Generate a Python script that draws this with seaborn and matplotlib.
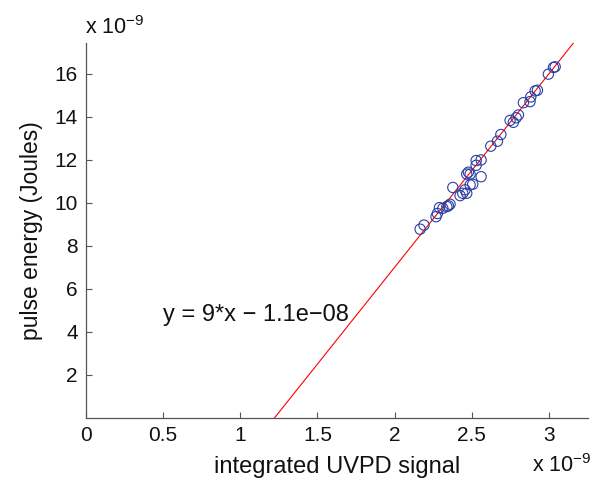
import numpy as np
import pandas as pd
import matplotlib
matplotlib.use("Agg")
import matplotlib.pyplot as plt
import seaborn as sns

# Data (units of 1e-9)
signal = [2.165, 2.19, 2.268, 2.277, 2.29, 2.312, 2.348, 2.359, 2.338, 2.377,
          2.424, 2.441, 2.456, 2.467, 2.489, 2.506, 2.467, 2.478, 2.489, 2.56,
          2.528, 2.528, 2.56, 2.623, 2.666, 2.688, 2.748, 2.769, 2.787, 2.802,
          2.834, 2.877, 2.882, 2.91, 2.925, 2.996, 3.029, 3.04]
energy = [8.77, 8.96, 9.35, 9.50, 9.77, 9.74, 9.86, 9.93, 9.82, 10.71,
          10.33, 10.44, 10.60, 10.44, 10.83, 10.86, 11.33, 11.42, 11.33, 11.21,
          11.74, 11.96, 11.99, 12.63, 12.86, 13.17, 13.83, 13.74, 13.95, 14.08,
          14.65, 14.70, 14.92, 15.20, 15.23, 15.98, 16.29, 16.32]
fit_slope = 9.0
fit_intercept = -11.0  # in units of 1e-9
x_ticks = [0, 0.5, 1, 1.5, 2, 2.5, 3]
x_ticklabels = ["0", "0.5", "1", "1.5", "2", "2.5", "3"]
y_ticks = [2, 4, 6, 8, 10, 12, 14, 16]
y_ticklabels = ["2", "4", "6", "8", "10", "12", "14", "16"]

sns.set_style("ticks")
plt.rcParams["font.family"] = ["Liberation Sans", "DejaVu Sans"]

fig = plt.figure(figsize=(5.97, 4.83), dpi=100)
ax = fig.add_axes([0.144, 0.135, 0.841, 0.777])

df = pd.DataFrame({"signal": signal, "energy": energy})
xl = np.array([1.0, 3.4])
line_df = pd.DataFrame({"x": xl, "y": fit_slope * xl + fit_intercept})
sns.lineplot(data=line_df, x="x", y="y", ax=ax, color="#ff0000", lw=0.8)
sns.scatterplot(data=df, x="signal", y="energy", ax=ax, marker="o",
                facecolors="none", edgecolor="#2b3fa3", linewidth=0.8, s=55,
                zorder=3)

ax.set_xlim(0, 3.253)
ax.set_ylim(0, 17.45)
ax.set_xticks(x_ticks)
ax.set_xticklabels(x_ticklabels)
ax.set_yticks(y_ticks)
ax.set_yticklabels(y_ticklabels)
for s in ["top", "right"]:
    ax.spines[s].set_visible(False)
for s in ["left", "bottom"]:
    ax.spines[s].set_color("#555555")
    ax.spines[s].set_linewidth(0.9)
ax.tick_params(direction="in", length=4, width=0.8, color="#555555",
               labelsize=15, pad=6, labelcolor="#111111")

ax.set_xlabel("integrated UVPD signal", fontsize=17, labelpad=8, color="#111111")
ax.set_ylabel("pulse energy (Joules)", fontsize=16.5, labelpad=8, color="#111111")

ax.text(0.5, 4.76, "y = 9*x \u2212 1.1e\u221208", fontsize=17,
        va="center", ha="left", color="#111111")

fig.text(85 / 597, 1 - 28 / 483, r"x 10$^{\mathregular{-9}}$", fontsize=15.5,
         va="center", ha="left", color="#111111")
fig.text(532 / 597, 1 - 466 / 483, r"x 10$^{\mathregular{-9}}$", fontsize=15.5,
         va="center", ha="left", color="#111111")

fig.savefig("out.png", dpi=100)
